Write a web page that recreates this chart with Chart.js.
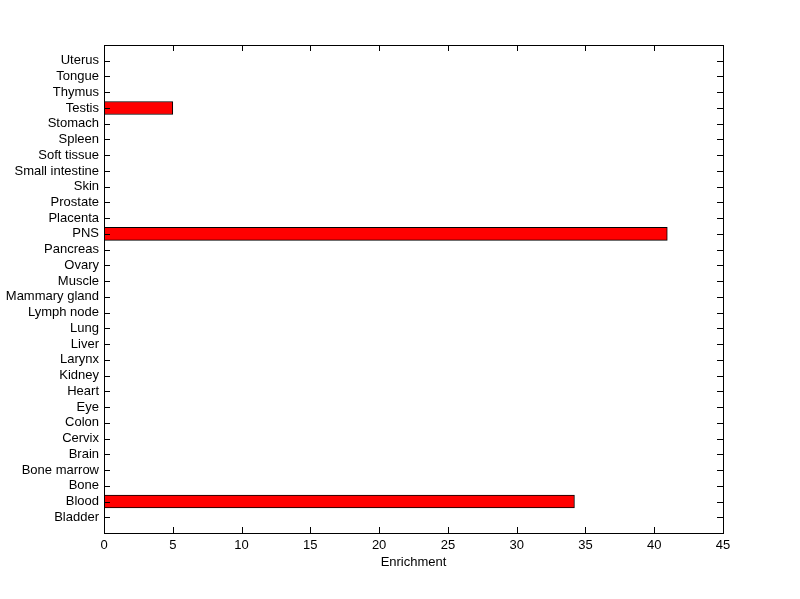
<!DOCTYPE html>
<html>
<head>
<meta charset="utf-8">
<script src="https://cdn.jsdelivr.net/npm/chart.js@4.4.1/dist/chart.umd.min.js"></script>
<style>
  html, body { margin: 0; padding: 0; background: #fff; }
  #wrap { width: 800px; height: 599px; }
</style>
</head>
<body>
<div id="wrap"><canvas id="c" width="800" height="599"></canvas></div>
<script>
// tissues, bottom to top (MATLAB barh order)
const tissues = ["Bladder", "Blood", "Bone", "Bone marrow", "Brain", "Cervix", "Colon", "Eye",
  "Heart", "Kidney", "Larynx", "Liver", "Lung", "Lymph node", "Mammary gland", "Muscle",
  "Ovary", "Pancreas", "PNS", "Placenta", "Prostate", "Skin", "Small intestine",
  "Soft tissue", "Spleen", "Stomach", "Testis", "Thymus", "Tongue", "Uterus"];
const enrichment = [0, 34.2, 0, 0, 0, 0, 0, 0,
  0, 0, 0, 0, 0, 0, 0, 0,
  0, 0, 40.95, 0, 0, 0, 0,
  0, 0, 0, 5.0, 0, 0, 0];
const xTicks = [0, 5, 10, 15, 20, 25, 30, 35, 40, 45];

const FONT = { family: "'Liberation Sans', Arial, sans-serif", size: 13 };
const TICK = 6;

// MATLAB-style box with inward ticks on all four sides
const boxTicks = {
  id: "boxTicks",
  afterDraw(chart) {
    const { ctx, chartArea: a, scales: { x, y } } = chart;
    ctx.save();
    ctx.strokeStyle = "#000";
    ctx.lineWidth = 1;
    ctx.beginPath();
    for (const t of x.ticks) {
      const px = Math.round(x.getPixelForValue(t.value)) + 0.5;
      ctx.moveTo(px, a.bottom); ctx.lineTo(px, a.bottom - TICK);
      ctx.moveTo(px, a.top); ctx.lineTo(px, a.top + TICK);
    }
    for (const t of y.ticks) {
      const py = Math.round(y.getPixelForValue(t.value)) + 0.5;
      ctx.moveTo(a.left, py); ctx.lineTo(a.left + TICK, py);
      ctx.moveTo(a.right, py); ctx.lineTo(a.right - TICK, py);
    }
    ctx.stroke();
    ctx.strokeRect(Math.round(a.left) + 0.5, Math.round(a.top) + 0.5,
      Math.round(a.right - a.left), Math.round(a.bottom - a.top));
    ctx.restore();
  }
};

new Chart(document.getElementById("c"), {
  type: "bar",
  data: {
    datasets: [{
      data: enrichment.map((v, i) => ({ x: v, y: i + 1 })),
      backgroundColor: "#ff0000",
      borderColor: "#000",
      borderWidth: 1,
      borderSkipped: false,
      barThickness: 13
    }]
  },
  options: {
    indexAxis: "y",
    responsive: false,
    animation: false,
    layout: { padding: { left: 0, top: 45, right: 77, bottom: 0 } },
    plugins: { legend: { display: false }, tooltip: { enabled: false } },
    scales: {
      x: {
        type: "linear",
        min: 0, max: 45,
        afterBuildTicks: s => { s.ticks = xTicks.map(v => ({ value: v })); },
        afterFit: s => { s.height = 66; },
        grid: { display: false, drawTicks: false },
        border: { display: false },
        ticks: { color: "#000", font: FONT, padding: 5, maxRotation: 0 },
        title: { display: true, text: "Enrichment", color: "#000", font: FONT, padding: { top: 0, bottom: 29 } }
      },
      y: {
        type: "linear",
        offset: false,
        min: 0, max: 31,
        afterBuildTicks: s => { s.ticks = tissues.map((_, i) => ({ value: i + 1 })); },
        afterFit: s => { s.width = 104; },
        grid: { display: false, drawTicks: false, offset: false },
        border: { display: false },
        ticks: { color: "#000", font: FONT, padding: 5, autoSkip: false,
          callback: v => tissues[v - 1] || "" }
      }
    }
  },
  plugins: [boxTicks]
});
</script>
</body>
</html>
